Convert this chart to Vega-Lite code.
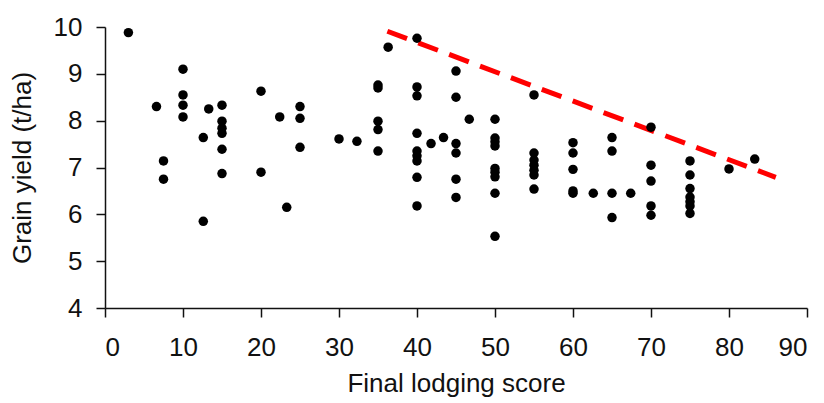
{
  "$schema": "https://vega.github.io/schema/vega-lite/v6.json",
  "width": 702,
  "height": 281,
  "autosize": {"type": "none"},
  "padding": {"left": 105, "top": 27, "right": 17, "bottom": 95},
  "background": "white",
  "config": {
    "view": {"stroke": null},
    "axis": {
      "labelFont": "Liberation Sans",
      "titleFont": "Liberation Sans",
      "labelFontSize": 26,
      "titleFontSize": 26,
      "labelColor": "#111",
      "titleColor": "#111",
      "titleFontWeight": "normal",
      "domainColor": "#111",
      "tickColor": "#111",
      "domainWidth": 1.5,
      "tickWidth": 1.5,
      "grid": false
    }
  },
  "datasets": {
    "points": [
      {"score": 3, "yield": 9.88}, {"score": 6.6, "yield": 8.3}, {"score": 7.5, "yield": 7.14}, {"score": 7.5, "yield": 6.75},
      {"score": 10, "yield": 9.1}, {"score": 10, "yield": 8.55}, {"score": 10, "yield": 8.33}, {"score": 10, "yield": 8.08},
      {"score": 12.6, "yield": 7.64}, {"score": 12.6, "yield": 5.85}, {"score": 13.3, "yield": 8.25},
      {"score": 15, "yield": 8.33}, {"score": 15, "yield": 7.99}, {"score": 15, "yield": 7.84}, {"score": 15, "yield": 7.73}, {"score": 15, "yield": 7.39}, {"score": 15, "yield": 6.87},
      {"score": 20, "yield": 8.63}, {"score": 20, "yield": 6.9}, {"score": 22.4, "yield": 8.08}, {"score": 23.3, "yield": 6.15},
      {"score": 25, "yield": 8.3}, {"score": 25, "yield": 8.05}, {"score": 25, "yield": 7.43},
      {"score": 30, "yield": 7.61}, {"score": 32.3, "yield": 7.56},
      {"score": 35, "yield": 8.76}, {"score": 35, "yield": 8.7}, {"score": 35, "yield": 7.99}, {"score": 35, "yield": 7.81}, {"score": 35, "yield": 7.35},
      {"score": 36.3, "yield": 9.57},
      {"score": 40, "yield": 9.76}, {"score": 40, "yield": 8.72}, {"score": 40, "yield": 8.53}, {"score": 40, "yield": 7.73}, {"score": 40, "yield": 7.35}, {"score": 40, "yield": 7.25}, {"score": 40, "yield": 7.14}, {"score": 40, "yield": 6.79}, {"score": 40, "yield": 6.18},
      {"score": 41.8, "yield": 7.51}, {"score": 43.4, "yield": 7.64},
      {"score": 45, "yield": 9.06}, {"score": 45, "yield": 8.5}, {"score": 45, "yield": 7.51}, {"score": 45, "yield": 7.31}, {"score": 45, "yield": 6.75}, {"score": 45, "yield": 6.36},
      {"score": 46.7, "yield": 8.03},
      {"score": 50, "yield": 8.03}, {"score": 50, "yield": 7.63}, {"score": 50, "yield": 7.55}, {"score": 50, "yield": 7.46}, {"score": 50, "yield": 6.98}, {"score": 50, "yield": 6.9}, {"score": 50, "yield": 6.8}, {"score": 50, "yield": 6.45}, {"score": 50, "yield": 5.53},
      {"score": 55, "yield": 8.55}, {"score": 55, "yield": 7.31}, {"score": 55, "yield": 7.16}, {"score": 55, "yield": 7.05}, {"score": 55, "yield": 6.94}, {"score": 55, "yield": 6.84}, {"score": 55, "yield": 6.54},
      {"score": 60, "yield": 7.53}, {"score": 60, "yield": 7.31}, {"score": 60, "yield": 6.96}, {"score": 60, "yield": 6.5}, {"score": 60, "yield": 6.45},
      {"score": 62.6, "yield": 6.45},
      {"score": 65, "yield": 7.64}, {"score": 65, "yield": 7.35}, {"score": 65, "yield": 6.45}, {"score": 65, "yield": 5.93},
      {"score": 67.4, "yield": 6.45},
      {"score": 70, "yield": 7.86}, {"score": 70, "yield": 7.05}, {"score": 70, "yield": 6.71}, {"score": 70, "yield": 6.18}, {"score": 70, "yield": 5.98},
      {"score": 75, "yield": 7.14}, {"score": 75, "yield": 6.84}, {"score": 75, "yield": 6.55}, {"score": 75, "yield": 6.37}, {"score": 75, "yield": 6.27}, {"score": 75, "yield": 6.18}, {"score": 75, "yield": 6.02},
      {"score": 80, "yield": 6.97}, {"score": 83.3, "yield": 7.18}
    ],
    "boundary": [
      {"score": 36.2, "yield": 9.91},
      {"score": 86.0, "yield": 6.79}
    ]
  },
  "layer": [
    {
      "data": {"name": "boundary"},
      "mark": {"type": "line", "color": "#ff0000", "strokeWidth": 5, "strokeDash": [21, 12], "clip": false},
      "encoding": {
        "x": {"field": "score", "type": "quantitative"},
        "y": {"field": "yield", "type": "quantitative"}
      }
    },
    {
      "data": {"name": "points"},
      "mark": {"type": "circle", "color": "#000000", "opacity": 1, "size": 90},
      "encoding": {
        "x": {
          "field": "score", "type": "quantitative",
          "scale": {"domain": [0, 90], "nice": false, "zero": false},
          "axis": {"values": [0, 10, 20, 30, 40, 50, 60, 70, 80, 90], "title": "Final lodging score", "tickSize": 9, "labelPadding": 17, "titlePadding": 10}
        },
        "y": {
          "field": "yield", "type": "quantitative",
          "scale": {"domain": [4, 10], "nice": false, "zero": false},
          "axis": {"values": [4, 5, 6, 7, 8, 9, 10], "title": "Grain yield  (t/ha)", "tickSize": 9, "labelPadding": 14, "titlePadding": 18}
        }
      }
    }
  ]
}
